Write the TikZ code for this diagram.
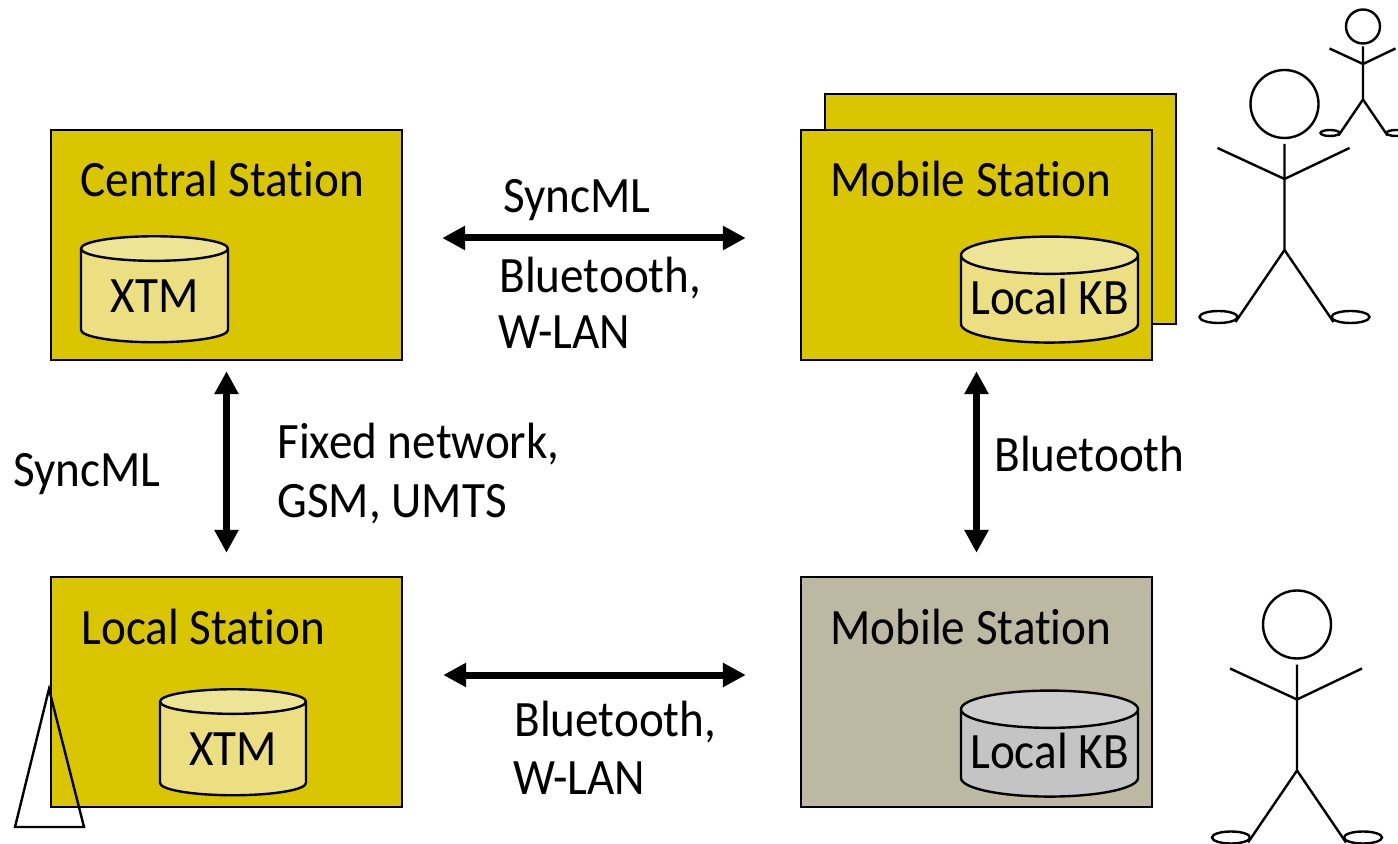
\documentclass[tikz,border=0pt]{standalone}
\usepackage{fontspec}
\setmainfont{Carlito}[FakeStretch=0.925,Ligatures=NoCommon]
\usetikzlibrary{shapes.geometric,arrows.meta}
\definecolor{stationyellow}{HTML}{D9C500}
\definecolor{stationgrey}{HTML}{BDB8A2}
\definecolor{kbyellow}{HTML}{EBDF82}
\definecolor{kbgrey}{HTML}{C4C4C4}
\begin{document}
\begin{tikzpicture}
[x=0.5pt,y=-0.5pt,
station/.style={rectangle,draw=black,line width=1.2pt,fill=stationyellow,minimum width=175.5pt,minimum height=115pt,inner sep=0pt},
kb/.style={cylinder,shape border rotate=90,draw=black,line width=1.2pt,aspect=0.28,inner sep=0pt,minimum height=53pt,cylinder uses custom fill,cylinder body fill=#1,cylinder end fill=#1!85!white,font=\fontsize{25.5}{25.5}\selectfont},
label/.style={anchor=base west,inner sep=0pt,font=\fontsize{25.5}{25.5}\selectfont},
link/.style={{Triangle[length=11.5pt,width=11.5pt]}-{Triangle[length=11.5pt,width=11.5pt]},line width=3.5pt},
stickman/.pic={
\draw[line width=1.2pt] (0,0) circle (34);
\draw[line width=1.2pt] (0,40) -- (0,146) -- (-49,218);
\draw[line width=1.2pt] (0,146) -- (49,218);
\draw[line width=1.2pt] (-67,44) -- (0,75) -- (65,44);
\draw[line width=1.2pt] (-66,213) ellipse [x radius=19,y radius=6];
\draw[line width=1.2pt] (66,213) ellipse [x radius=19,y radius=6];
}]
\useasboundingbox (0,0) rectangle (1398,844);

% stations
\node[station] (mobileback) at (1000.5,209) {};
\node[station] (central) at (226.5,245) {};
\node[station] (mobile) at (976.5,245) {};
\node[station] (local) at (226.5,692) {};
\node[station,fill=stationgrey] (mobilegrey) at (976.5,692) {};

\node[label] (centraltext) at (80,197) {Central Station};
\node[label] (mobiletext) at (830,197) {Mobile Station};
\node[label] (localtext) at (81,644) {Local Station};
\node[label] (mobilegreytext) at (830,644) {Mobile Station};

% knowledge bases
\node[kb=kbyellow,minimum width=73.5pt] (xtmcentral) at (154.5,296) {XTM};
\node[kb=kbyellow,minimum width=88.5pt,aspect=0.235] (kbmobile) at (1049.5,299.5) {\raisebox{2.5pt}{Local KB}};
\node[kb=kbyellow,minimum width=73pt] (xtmlocal) at (233,749) {XTM};
\node[kb=kbgrey,minimum width=88.5pt,aspect=0.235] (kbgrey) at (1049.5,753.5) {\raisebox{2.5pt}{Local KB}};

% links
\draw[link,shorten <=19.5pt,shorten >=27pt] ([yshift=3.5pt]central.east) -- ([yshift=3.5pt]mobile.west);
\draw[link,shorten <=20pt,shorten >=27pt] ([yshift=8.5pt]local.east) -- ([yshift=8.5pt]mobilegrey.west);
\draw[link,shorten <=5pt,shorten >=11.5pt] (central.south) -- (local.north);
\draw[link,shorten <=5pt,shorten >=11.5pt] (mobile.south) -- (mobilegrey.north);

\node[label] (topsync) at (503,213) {SyncML};
\node[label] (topblue) at (499,293) {Bluetooth,};
\node[label] (topwlan) at (498,349) {W-LAN};
\node[label] (leftsync) at (13,487) {SyncML};
\node[label] (leftfixed) at (277,459) {Fixed network,};
\node[label] (leftgsm) at (277,517) {GSM, UMTS};
\node[label] (rightblue) at (994,472) {Bluetooth};
\node[label] (lowblue) at (514,736) {Bluetooth,};
\node[label] (lowwlan) at (513,794) {W-LAN};

% tower
\draw[line width=1.2pt] (49,689) -- (84,827) -- (15,827) -- cycle;

% people
\pic at (1284.5,104) {stickman};
\pic at (1297,624.5) {stickman};
\pic[scale=0.5] at (1363,26.5) {stickman};
\end{tikzpicture}
\end{document}
